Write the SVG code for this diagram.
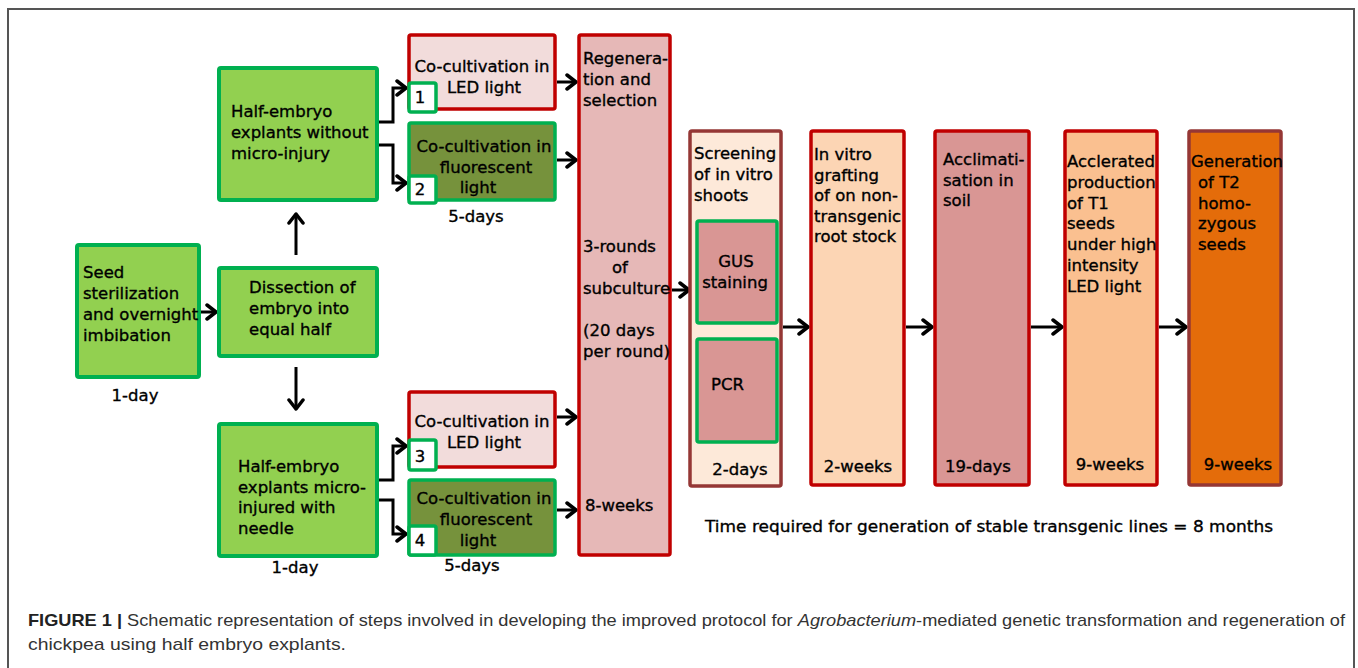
<svg xmlns="http://www.w3.org/2000/svg" width="1358" height="668" viewBox="0 0 1358 668">
<style>
.t{font-family:"DejaVu Sans","Liberation Sans",sans-serif;font-size:16.5px;fill:#000;stroke:#000;stroke-width:0.35}
.c{text-anchor:middle}
.g{fill:#92D050;stroke:#00B050;stroke-width:4}
.r{stroke:#C00000;stroke-width:3.5}
.br{stroke:#953735;stroke-width:3.5}
.n{fill:#FFFFFF;stroke:#00B050;stroke-width:3.5}
.gs{fill:#D99694;stroke:#00B050;stroke-width:3.5}
.a{fill:none;stroke:#000;stroke-width:3;marker-end:url(#ah)}
.cap{font-family:"Liberation Sans",Arial,sans-serif;font-size:17px;fill:#333}
</style>
<defs>
<marker id="ah" markerUnits="userSpaceOnUse" viewBox="0 0 13 18" markerWidth="13" markerHeight="18" refX="11" refY="9" orient="auto">
<path d="M2,2 L11,9 L2,16" fill="none" stroke="#000" stroke-width="3.5" stroke-linecap="round" stroke-linejoin="round"/>
</marker>
</defs>
<rect width="1358" height="668" fill="#FFFFFF"/>
<path d="M8,668 V9 H1354 V668" fill="none" stroke="#555" stroke-width="2"/>

<g id="connectors">
<path class="a" d="M201,312 H216"/>
<path class="a" d="M296,255 V214"/>
<path class="a" d="M296,367 V409"/>
<path class="a" d="M379,122 H393 V88 H406"/>
<path class="a" d="M379,145 H393 V183 H406"/>
<path class="a" d="M379,480 H393 V446 H406"/>
<path class="a" d="M379,500 H393 V534 H406"/>
<path class="a" d="M557,82 H576"/>
<path class="a" d="M557,160 H576"/>
<path class="a" d="M557,417 H576"/>
<path class="a" d="M557,510 H576"/>
<path class="a" d="M672,290 H689"/>
<path class="a" d="M783,327 H808"/>
<path class="a" d="M906,327 H932"/>
<path class="a" d="M1031,327 H1062"/>
<path class="a" d="M1159,327 H1186"/>
</g>

<g id="seed">
<rect class="g" x="77" y="245" width="122" height="132" rx="2"/>
<text class="t" x="83" y="278">Seed</text>
<text class="t" x="83" y="299">sterilization</text>
<text class="t" x="83" y="320">and overnight</text>
<text class="t" x="83" y="341">imbibation</text>
<text class="t c" x="135" y="401">1-day</text>
</g>

<g id="dissection">
<rect class="g" x="219" y="268" width="158" height="88" rx="2"/>
<text class="t" x="249" y="293">Dissection of</text>
<text class="t" x="249" y="314">embryo into</text>
<text class="t" x="249" y="335">equal half</text>
</g>

<g id="half-top">
<rect class="g" x="219" y="68" width="158" height="132" rx="2"/>
<text class="t" x="231" y="117">Half-embryo</text>
<text class="t" x="231" y="138">explants without</text>
<text class="t" x="231" y="159">micro-injury</text>
</g>

<g id="half-bottom">
<rect class="g" x="219" y="424" width="158" height="132" rx="2"/>
<text class="t" x="238" y="472">Half-embryo</text>
<text class="t" x="238" y="493">explants micro-</text>
<text class="t" x="238" y="513">injured with</text>
<text class="t" x="238" y="534">needle</text>
<text class="t c" x="295" y="573">1-day</text>
</g>

<g id="cocult-1">
<rect class="r" fill="#F2DCDB" x="409" y="35" width="146" height="74" rx="2"/>
<text class="t c" x="482" y="72">Co-cultivation in</text>
<text class="t c" x="484" y="93">LED light</text>
<rect class="n" x="409" y="83" width="27" height="29" rx="2"/>
<text class="t c" x="420" y="103">1</text>
</g>

<g id="cocult-2">
<rect fill="#76923C" stroke="#00B050" stroke-width="3.5" x="409" y="123" width="146" height="77" rx="2"/>
<text class="t c" x="484" y="152">Co-cultivation in</text>
<text class="t c" x="486" y="173">fluorescent</text>
<text class="t c" x="478" y="193">light</text>
<rect class="n" x="409" y="176" width="27" height="27" rx="2"/>
<text class="t c" x="420" y="195">2</text>
<text class="t c" x="476" y="222">5-days</text>
</g>

<g id="cocult-3">
<rect class="r" fill="#F2DCDB" x="409" y="392" width="146" height="75" rx="2"/>
<text class="t c" x="482" y="427">Co-cultivation in</text>
<text class="t c" x="484" y="448">LED light</text>
<rect class="n" x="409" y="440" width="27" height="30" rx="2"/>
<text class="t c" x="420" y="462">3</text>
</g>

<g id="cocult-4">
<rect fill="#76923C" stroke="#00B050" stroke-width="3.5" x="409" y="480" width="146" height="75" rx="2"/>
<text class="t c" x="484" y="504">Co-cultivation in</text>
<text class="t c" x="486" y="525">fluorescent</text>
<text class="t c" x="478" y="546">light</text>
<rect class="n" x="409" y="526" width="27" height="29" rx="2"/>
<text class="t c" x="420" y="546">4</text>
<text class="t c" x="472" y="571">5-days</text>
</g>

<g id="regeneration">
<rect class="r" fill="#E6B8B7" x="579" y="35" width="91" height="520" rx="2"/>
<text class="t" x="583" y="64">Regenera-</text>
<text class="t" x="583" y="85">tion and</text>
<text class="t" x="583" y="106">selection</text>
<text class="t" x="583" y="252">3-rounds</text>
<text class="t" x="612" y="273">of</text>
<text class="t" x="583" y="294">subculture</text>
<text class="t" x="583" y="336">(20 days</text>
<text class="t" x="583" y="357">per round)</text>
<text class="t" x="585" y="511">8-weeks</text>
</g>

<g id="screening">
<rect class="br" fill="#FDE9D9" x="690" y="131" width="91" height="355" rx="2"/>
<text class="t" x="694" y="159">Screening</text>
<text class="t" x="694" y="180">of in vitro</text>
<text class="t" x="694" y="201">shoots</text>
<rect class="gs" x="697" y="221" width="80" height="102" rx="2"/>
<text class="t c" x="736" y="267">GUS</text>
<text class="t c" x="735" y="288">staining</text>
<rect class="gs" x="697" y="339" width="80" height="103" rx="2"/>
<text class="t" x="711" y="390">PCR</text>
<text class="t c" x="740" y="475">2-days</text>
</g>

<g id="grafting">
<rect class="r" fill="#FCD5B4" x="811" y="131" width="93" height="354" rx="2"/>
<text class="t" x="814" y="160">In vitro</text>
<text class="t" x="814" y="181">grafting</text>
<text class="t" x="814" y="201">of on non-</text>
<text class="t" x="814" y="222">transgenic</text>
<text class="t" x="814" y="242">root stock</text>
<text class="t c" x="858" y="472">2-weeks</text>
</g>

<g id="acclimatisation">
<rect class="r" fill="#D99694" x="935" y="131" width="94" height="354" rx="2"/>
<text class="t" x="943" y="165">Acclimati-</text>
<text class="t" x="943" y="186">sation in</text>
<text class="t" x="943" y="206">soil</text>
<text class="t c" x="978" y="472">19-days</text>
</g>

<g id="t1-seeds">
<rect class="r" fill="#FAC090" x="1065" y="131" width="92" height="354" rx="2"/>
<text class="t" x="1067" y="167">Acclerated</text>
<text class="t" x="1067" y="188">production</text>
<text class="t" x="1067" y="209">of T1</text>
<text class="t" x="1067" y="229">seeds</text>
<text class="t" x="1067" y="250">under high</text>
<text class="t" x="1067" y="271">intensity</text>
<text class="t" x="1067" y="292">LED light</text>
<text class="t c" x="1110" y="470">9-weeks</text>
</g>

<g id="t2-seeds">
<rect class="br" fill="#E46C0A" x="1189" y="131" width="92" height="354" rx="2"/>
<text class="t" x="1191" y="167">Generation</text>
<text class="t" x="1198" y="188">of T2</text>
<text class="t" x="1198" y="209">homo-</text>
<text class="t" x="1198" y="229">zygous</text>
<text class="t" x="1198" y="250">seeds</text>
<text class="t c" x="1238" y="470">9-weeks</text>
</g>

<text class="t" x="705" y="532" textLength="568" lengthAdjust="spacingAndGlyphs">Time required for generation of stable transgenic lines = 8 months</text>

<text class="cap" x="28" y="626" textLength="1317" lengthAdjust="spacingAndGlyphs"><tspan font-weight="bold" fill="#222">FIGURE 1 |</tspan> Schematic representation of steps involved in developing the improved protocol for <tspan font-style="italic">Agrobacterium</tspan>-mediated genetic transformation and regeneration of</text>
<text class="cap" x="28" y="650" textLength="318" lengthAdjust="spacingAndGlyphs">chickpea using half embryo explants.</text>
</svg>
